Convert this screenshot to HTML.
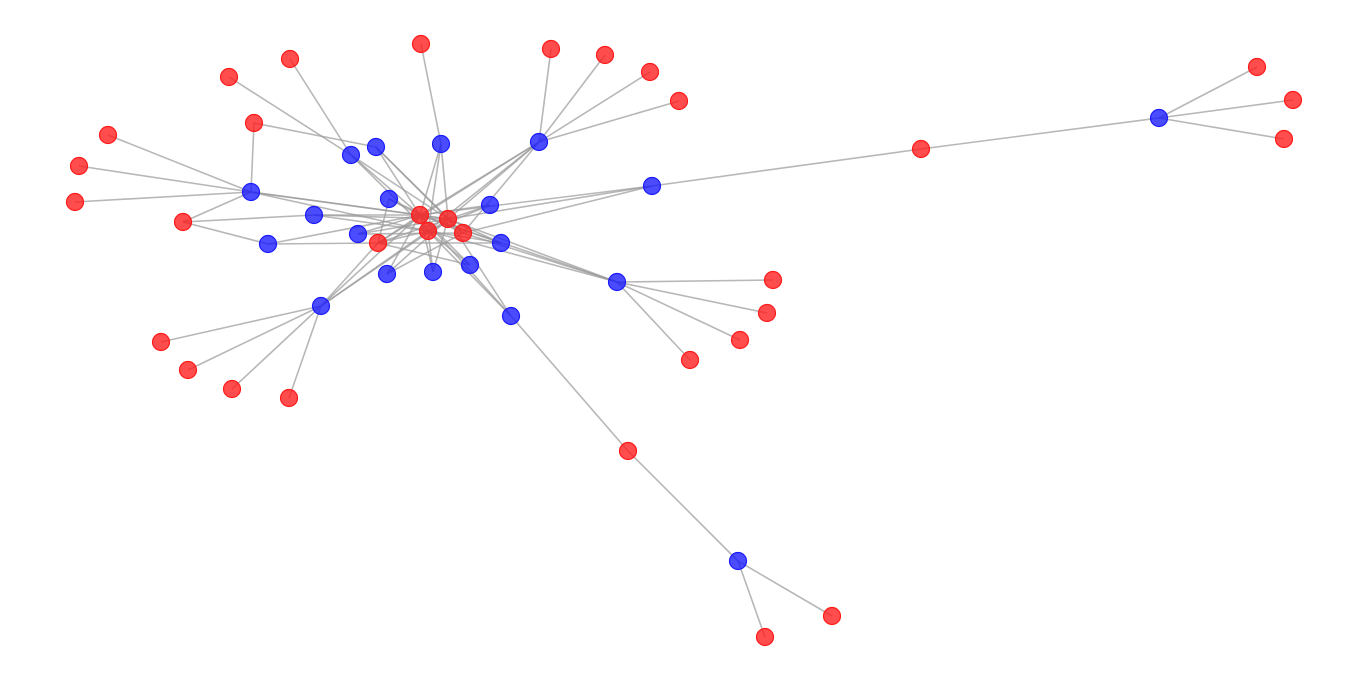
<!DOCTYPE html>
<html><head><meta charset="utf-8"><style>
html,body{margin:0;padding:0;background:#fff;width:1367px;height:681px;overflow:hidden}
</style></head><body>
<svg width="1367" height="681" xmlns="http://www.w3.org/2000/svg"><g id="g" transform="translate(1,1)"></g></svg>
<script>
const B={B1:[375,146],B2:[350,154],B3:[440,143],B4:[538,141],B5:[250,191],B6:[388,198],B7:[313,214],B8:[489,204],B9:[357,233],B10:[267,243],B11:[500,242],B12:[386,273],B13:[432,271],B14:[469,264],B15:[320,305],B16:[510,315],B17:[616,281],B18:[651,185],B19:[1158,117],B20:[737,560]};
const R={R1:[419,214],R2:[447,218],R3:[427,230],R4:[462,232],R5:[377,242]};
const L=[[420,43,'B3'],[289,58,'B2'],[228,76,'B2'],[253,122,'B5','B1'],[107,134,'B5'],[78,165,'B5'],[74,201,'B5'],[182,221,'B5','B7','B10'],
[550,48,'B4'],[604,54,'B4'],[649,71,'B4'],[678,100,'B4'],[920,148,'B18','B19'],[1256,66,'B19'],[1292,99,'B19'],[1283,138,'B19'],
[772,279,'B17'],[766,312,'B17'],[739,339,'B17'],[689,359,'B17'],[160,341,'B15'],[187,369,'B15'],[231,388,'B15'],[288,397,'B15'],
[627,450,'B16','B20'],[831,615,'B20'],[764,636,'B20']];
const hub={B1:['R1','R2','R4'],B2:['R1','R2','R3'],B3:['R1','R3','R2'],B4:['R1','R2','R3','R4','R5'],B5:['R1','R2','R3'],B6:['R1','R4','R5'],B7:['R1','R3','R2'],B8:['R1','R5','R3'],B9:['R1','R4','R2'],B10:['R5','R1'],B11:['R1','R2','R5','R3'],B12:['R1','R2','R4'],B13:['R1','R3','R2'],B14:['R1','R3','R5'],B15:['R1','R2','R3','R5'],B16:['R1','R3','R2'],B17:['R1','R2','R4','R3'],B18:['R2','R4','R1']};
let s='';
const ln=(a,b)=>s+=`<line x1="${a[0]}" y1="${a[1]}" x2="${b[0]}" y2="${b[1]}" stroke="#999" stroke-opacity="0.7" stroke-width="1.6"/>`;
for(const k in hub)for(const r of hub[k])ln(B[k],R[r]);
ln(R.R1,R.R2);ln(R.R1,R.R3);ln(R.R2,R.R4);ln(R.R3,R.R5);ln(R.R1,R.R5);
for(const l of L)for(let i=2;i<l.length;i++)ln([l[0],l[1]],B[l[i]]);
const c=(p,f,st)=>s+=`<circle cx="${p[0]}" cy="${p[1]}" r="8.5" fill="${f}" fill-opacity="0.78" stroke="${st}" stroke-width="1.2"/>`;
for(const l of L)c(l,'#ff1a1a','#ff1a1a');
for(const k in B)c(B[k],'#1a1aff','#1a1aff');
for(const k in R)c(R[k],'#ff1a1a','#ff1a1a');
document.getElementById('g').innerHTML=s;
</script>
</body></html>
